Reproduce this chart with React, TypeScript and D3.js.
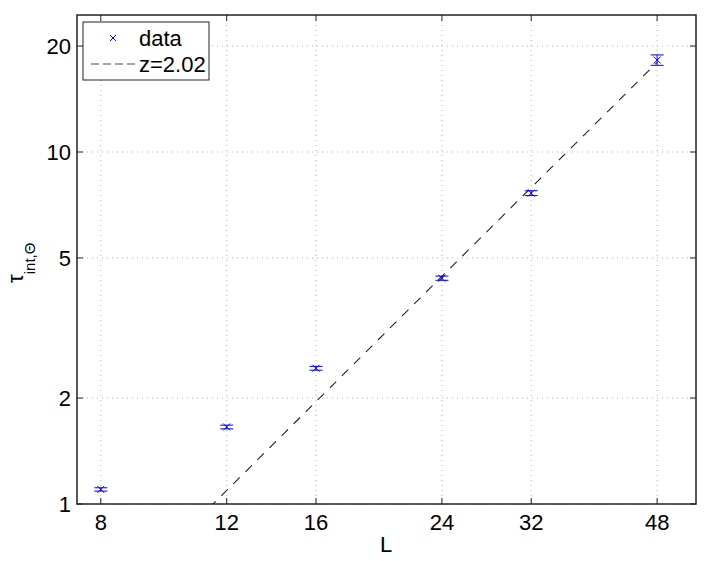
import React from "react";
import * as d3 from "d3";

const Ls = [8, 12, 16, 24, 32, 48];
const tau = [1.10, 1.655, 2.43, 4.38, 7.64, 18.25];
const tauErr = [0.012, 0.02, 0.03, 0.06, 0.12, 0.62];
const xTicks = [8, 12, 16, 24, 32, 48];
const yTicks = [1, 2, 5, 10, 20];
const zExp = 2.02;
const fitAmp = 0.00722;
const fitRange = [8, 48];

const W = 706, H = 561;
const M = { left: 77, right: 696, top: 15, bottom: 504 };

export default function App() {
  const x = d3.scaleLog().domain([7.41, 54.4]).range([M.left, M.right]);
  const y = d3.scaleLog().domain([1, 24.5]).range([M.bottom, M.top]);
  const fitPts = d3.range(0, 101).map((i) => {
    const L = fitRange[0] * Math.pow(fitRange[1] / fitRange[0], i / 100);
    return [L, fitAmp * Math.pow(L, zExp)] as [number, number];
  });
  const line = d3.line<[number, number]>().x((d) => x(d[0])).y((d) => y(d[1]));
  const font = "'Liberation Sans', Arial, Helvetica, sans-serif";
  const fs = 22;
  const tl = 6;
  const ms = 3.5;
  const cap = 6.5;
  return (
    <svg width={W} height={H} style={{ position: "absolute", left: 0, top: 0, background: "#fff" }} fontFamily={font}>
      <defs>
        <clipPath id="pc">
          <rect x={M.left} y={M.top} width={M.right - M.left} height={M.bottom - M.top} />
        </clipPath>
      </defs>
      <rect x={0} y={0} width={W} height={H} fill="#fff" />
      {/* grid */}
      {xTicks.map((t) => (
        <line key={"gx" + t} x1={x(t)} x2={x(t)} y1={M.top} y2={M.bottom} stroke="#b0b0b0" strokeWidth={1} strokeDasharray="1,4" />
      ))}
      {yTicks.map((t) => (
        <line key={"gy" + t} y1={y(t)} y2={y(t)} x1={M.left} x2={M.right} stroke="#b0b0b0" strokeWidth={1} strokeDasharray="1,4" />
      ))}
      {/* fit line */}
      <g clipPath="url(#pc)">
        <path d={line(fitPts) || ""} fill="none" stroke="#222" strokeWidth={1.1} strokeDasharray="9,8" />
      </g>
      {/* data */}
      {Ls.map((L, i) => {
        const cx = x(L), cy = y(tau[i]);
        const yt = y(tau[i] + tauErr[i]), yb = y(tau[i] - tauErr[i]);
        return (
          <g key={"d" + L} stroke="#0000ff" strokeWidth={1}>
            <line x1={cx} x2={cx} y1={yt} y2={yb} />
            <line x1={cx - cap} x2={cx + cap} y1={yt} y2={yt} />
            <line x1={cx - cap} x2={cx + cap} y1={yb} y2={yb} />
            <line x1={cx - ms} x2={cx + ms} y1={cy - ms} y2={cy + ms} />
            <line x1={cx - ms} x2={cx + ms} y1={cy + ms} y2={cy - ms} />
          </g>
        );
      })}
      {/* axes box */}
      <rect x={M.left} y={M.top} width={M.right - M.left} height={M.bottom - M.top} fill="none" stroke="#222" strokeWidth={1.5} />
      {xTicks.map((t) => (
        <g key={"tx" + t}>
          <line x1={x(t)} x2={x(t)} y1={M.bottom} y2={M.bottom - tl} stroke="#222" />
          <line x1={x(t)} x2={x(t)} y1={M.top} y2={M.top + tl} stroke="#222" />
          <text x={x(t)} y={M.bottom + 26} fontSize={fs} textAnchor="middle" fill="#000">{t}</text>
        </g>
      ))}
      {yTicks.map((t) => (
        <g key={"ty" + t}>
          <line y1={y(t)} y2={y(t)} x1={M.left} x2={M.left + tl} stroke="#222" />
          <line y1={y(t)} y2={y(t)} x1={M.right} x2={M.right - tl} stroke="#222" />
          <text x={M.left - 6} y={y(t) + 8} fontSize={fs} textAnchor="end" fill="#000">{t}</text>
        </g>
      ))}
      {/* labels */}
      <text x={386} y={552} fontSize={fs} textAnchor="middle" fill="#000">L</text>
      <g transform="translate(23,283) rotate(-90)">
        <text x={0} y={0} fontSize={fs} textAnchor="start" fill="#000">
          τ<tspan fontSize={15} dy={12}>int,Θ</tspan>
        </text>
      </g>
      {/* legend */}
      <rect x={83} y={22} width={126} height={58} fill="#fff" stroke="#222" strokeWidth={1} />
      <g stroke="#0000ff" strokeWidth={1}>
        <line x1={113 - 3} x2={113 + 3} y1={38 - 3} y2={38 + 3} />
        <line x1={113 - 3} x2={113 + 3} y1={38 + 3} y2={38 - 3} />
      </g>
      <text x={139} y={46} fontSize={fs} fill="#000">data</text>
      <line x1={91} x2={135} y1={64} y2={64} stroke="#444" strokeWidth={1.1} strokeDasharray="8,4" />
      <text x={139} y={72} fontSize={fs} fill="#000">z=2.02</text>
    </svg>
  );
}
